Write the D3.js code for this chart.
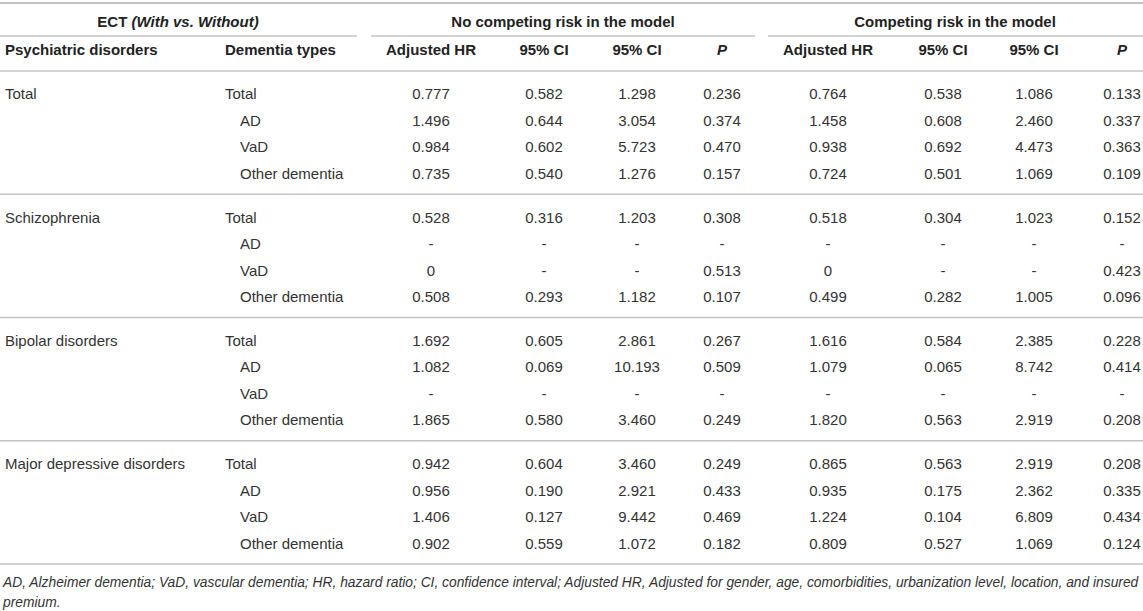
<!DOCTYPE html>
<html>
<head>
<meta charset="utf-8">
<script src="https://cdn.jsdelivr.net/npm/d3@7"></script>
<style>
  body { margin: 0; background: #fff; }
  text { font-family: "Liberation Sans", Arial, Helvetica, sans-serif; }
</style>
</head>
<body>
<script>
// table content
var disorders = ["Total", "Schizophrenia", "Bipolar disorders", "Major depressive disorders"];
var dementiaTypes = ["Total", "AD", "VaD", "Other dementia"];
var modelHeaders = ["No competing risk in the model", "Competing risk in the model"];
var colHeaders = ["Adjusted HR", "95% CI", "95% CI", "P"];

// values, one entry per (disorder, dementia type), row order
var hrNoCR   = ["0.777","1.496","0.984","0.735", "0.528","-","0","0.508", "1.692","1.082","-","1.865", "0.942","0.956","1.406","0.902"];
var lowNoCR  = ["0.582","0.644","0.602","0.540", "0.316","-","-","0.293", "0.605","0.069","-","0.580", "0.604","0.190","0.127","0.559"];
var highNoCR = ["1.298","3.054","5.723","1.276", "1.203","-","-","1.182", "2.861","10.193","-","3.460", "3.460","2.921","9.442","1.072"];
var pNoCR    = ["0.236","0.374","0.470","0.157", "0.308","-","0.513","0.107", "0.267","0.509","-","0.249", "0.249","0.433","0.469","0.182"];
var hrCR     = ["0.764","1.458","0.938","0.724", "0.518","-","0","0.499", "1.616","1.079","-","1.820", "0.865","0.935","1.224","0.809"];
var lowCR    = ["0.538","0.608","0.692","0.501", "0.304","-","-","0.282", "0.584","0.065","-","0.563", "0.563","0.175","0.104","0.527"];
var highCR   = ["1.086","2.460","4.473","1.069", "1.023","-","-","1.005", "2.385","8.742","-","2.919", "2.919","2.362","6.809","1.069"];
var pCR      = ["0.133","0.337","0.363","0.109", "0.152","-","0.423","0.096", "0.228","0.414","-","0.208", "0.208","0.335","0.434","0.124"];

var footnote = ["AD, Alzheimer dementia; VaD, vascular dementia; HR, hazard ratio; CI, confidence interval; Adjusted HR, Adjusted for gender, age, comorbidities, urbanization level, location, and insured",
                "premium."];

var svgWidth = 1143;
var svgHeight = 611;
var lineColor = "#c3c3c3";
var textColor = "#333";
var headColor = "#222";

var svg = d3.select("body")
            .append("svg")
            .attr("width", svgWidth)
            .attr("height", svgHeight);

svg.append("rect").attr("width", svgWidth).attr("height", svgHeight).attr("fill", "#fff");

// column positions
var valueCols = [hrNoCR, lowNoCR, highNoCR, pNoCR, hrCR, lowCR, highCR, pCR];
var colIdx = d3.range(valueCols.length);
var xCol = d3.scaleOrdinal()
             .domain(colIdx)
             .range([431, 544, 637, 722, 828, 943, 1034, 1122]);

// row positions
var yGroup = d3.scaleBand()
               .domain(disorders)
               .range([71, 564]);
var yRow = d3.scalePoint()
             .domain(dementiaTypes)
             .range([23, 102.5]);

// rules
function hline(x1, x2, y, w) {
  svg.append("line")
     .attr("x1", x1).attr("x2", x2)
     .attr("y1", y).attr("y2", y)
     .attr("stroke", lineColor)
     .attr("stroke-width", w);
}
hline(0, svgWidth, 3, 2);
hline(0, 357, 36, 1.6);
hline(371, 755, 36, 1.6);
hline(768, svgWidth, 36, 1.6);
disorders.forEach(function(d) { hline(0, svgWidth, yGroup(d), 1.6); });
hline(0, svgWidth, yGroup.range()[1], 1.6);

// header row 1
var head1 = svg.append("text")
               .attr("x", 178).attr("y", 22)
               .attr("dy", "0.35em")
               .attr("text-anchor", "middle")
               .attr("font-size", 15)
               .attr("font-weight", "bold")
               .attr("fill", headColor);
head1.append("tspan").text("ECT ");
head1.append("tspan").attr("font-style", "italic").text("(With vs. Without)");

svg.selectAll("text.model")
   .data(modelHeaders)
   .enter()
   .append("text")
   .classed("model", true)
   .attr("x", function(d, i) { return i === 0 ? 563 : 955; })
   .attr("y", 22)
   .attr("dy", "0.35em")
   .attr("text-anchor", "middle")
   .attr("font-size", 15)
   .attr("font-weight", "bold")
   .attr("fill", headColor)
   .text(function(d) { return d; });

// header row 2
svg.append("text")
   .attr("x", 5).attr("y", 50).attr("dy", "0.35em")
   .attr("font-size", 15).attr("font-weight", "bold").attr("fill", headColor)
   .text("Psychiatric disorders");
svg.append("text")
   .attr("x", 225).attr("y", 50).attr("dy", "0.35em")
   .attr("font-size", 15).attr("font-weight", "bold").attr("fill", headColor)
   .text("Dementia types");

svg.selectAll("text.colhead")
   .data(colHeaders.concat(colHeaders))
   .enter()
   .append("text")
   .classed("colhead", true)
   .attr("x", function(d, i) { return xCol(i); })
   .attr("y", 50)
   .attr("dy", "0.35em")
   .attr("text-anchor", "middle")
   .attr("font-size", 15)
   .attr("font-weight", "bold")
   .attr("font-style", function(d) { return d === "P" ? "italic" : "normal"; })
   .attr("fill", headColor)
   .text(function(d) { return d; });

// body rows
var rows = [];
disorders.forEach(function(dis, g) {
  dementiaTypes.forEach(function(type, r) {
    var k = g * dementiaTypes.length + r;
    rows.push({
      disorder: dis,
      type: type,
      first: r === 0,
      values: valueCols.map(function(col) { return col[k]; })
    });
  });
});

var rowGroups = svg.selectAll("g.row")
                   .data(rows)
                   .enter()
                   .append("g")
                   .classed("row", true)
                   .attr("transform", function(d) {
                     return `translate(0, ${yGroup(d.disorder) + yRow(d.type)})`;
                   });

rowGroups.filter(function(d) { return d.first; })
         .append("text")
         .attr("x", 5)
         .attr("dy", "0.35em")
         .attr("font-size", 15)
         .attr("fill", textColor)
         .text(function(d) { return d.disorder; });

rowGroups.append("text")
         .attr("x", function(d) { return d.first ? 225 : 240; })
         .attr("dy", "0.35em")
         .attr("font-size", 15)
         .attr("fill", textColor)
         .text(function(d) { return d.type; });

rowGroups.selectAll("text.val")
         .data(function(d) { return d.values; })
         .enter()
         .append("text")
         .classed("val", true)
         .attr("x", function(d, i) { return xCol(i); })
         .attr("dy", "0.35em")
         .attr("text-anchor", "middle")
         .attr("font-size", 15)
         .attr("fill", textColor)
         .text(function(d) { return d; });

// footnote
var notes = svg.selectAll("text.note")
   .data(footnote)
   .enter()
   .append("text")
   .classed("note", true)
   .attr("x", 3)
   .attr("y", function(d, i) { return 582 + i * 20; })
   .attr("dy", "0.35em")
   .attr("font-size", 14)
   .attr("font-style", "italic")
   .attr("fill", textColor)
   .text(function(d) { return d; });

// shrink the long footnote line so it fits the table width
var w0 = notes.node().getComputedTextLength();
if (w0 > 1137) {
  notes.attr("font-size", 14 * 1137 / w0);
}
</script>
</body>
</html>
